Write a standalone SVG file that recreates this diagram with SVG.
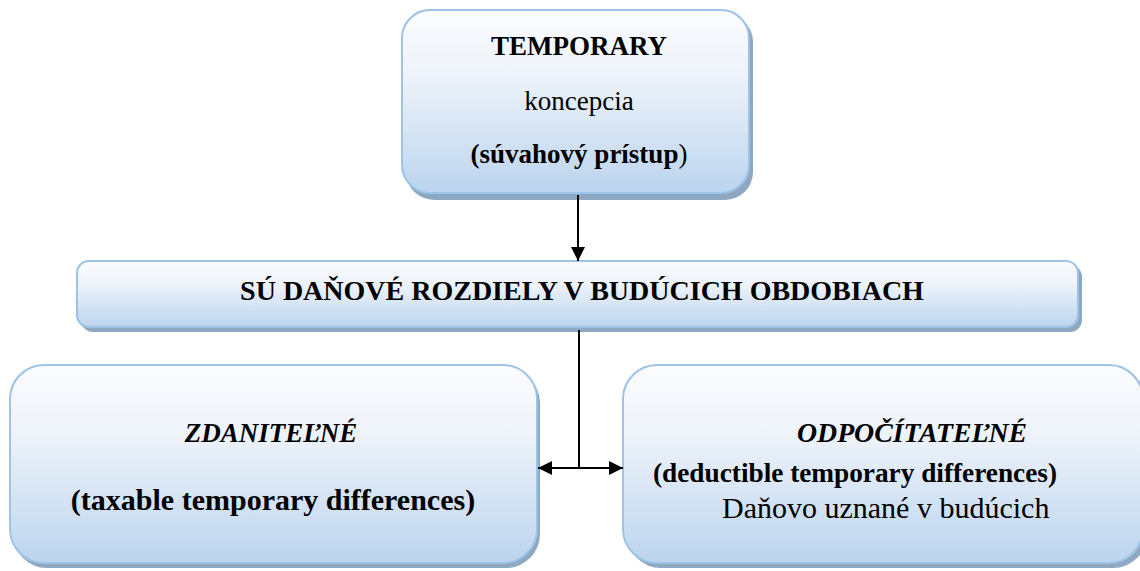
<svg xmlns="http://www.w3.org/2000/svg" width="1140" height="571" viewBox="0 0 1140 571">
  <defs>
    <linearGradient id="boxFill" x1="0" y1="0" x2="0" y2="1">
      <stop offset="0" stop-color="#fbfcfe"/>
      <stop offset="0.35" stop-color="#eef3fa"/>
      <stop offset="1" stop-color="#bcd4ee"/>
    </linearGradient>
    <marker id="arrowHead" viewBox="0 0 14 14" refX="14" refY="7" markerWidth="14" markerHeight="14" markerUnits="userSpaceOnUse" orient="auto">
      <path d="M0,0 L14,7 L0,14 Z" fill="#000"/>
    </marker>
  </defs>
  <style>
    .shadow { fill: #8fa8c2; }
    .box { fill: url(#boxFill); stroke: #9dc3e6; stroke-width: 2; }
    .b { font-weight: bold; }
    .i { font-style: italic; }
    .link { stroke: #000; stroke-width: 2; fill: none; }
  </style>

  <rect width="1140" height="571" fill="#fff"/>

  <g font-family="Liberation Serif, Times New Roman, Tinos, serif" fill="#000">
    <!-- top: temporary concept -->
    <g id="node-temporary">
      <rect class="shadow" x="406" y="14" width="347" height="186" rx="28"/>
      <rect class="box" x="402" y="10" width="347" height="183" rx="28"/>
      <text class="b" x="579" y="55" font-size="27" text-anchor="middle">TEMPORARY</text>
      <text x="579" y="110" font-size="27" text-anchor="middle">koncepcia</text>
      <text class="b" x="579" y="163" font-size="27" text-anchor="middle">(súvahový prístup<tspan font-weight="normal">)</tspan></text>
    </g>

    <!-- middle bar -->
    <g id="node-differences">
      <rect class="shadow" x="81" y="265" width="1001" height="67" rx="12"/>
      <rect class="box" x="77" y="261" width="1001" height="66" rx="12"/>
      <text class="b" x="582" y="300" font-size="28" text-anchor="middle">SÚ DAŇOVÉ ROZDIELY V BUDÚCICH OBDOBIACH</text>
    </g>

    <!-- left: taxable -->
    <g id="node-taxable">
      <rect class="shadow" x="13" y="369" width="527" height="199" rx="34"/>
      <rect class="box" x="10" y="365" width="527" height="198" rx="34"/>
      <text class="b i" x="271" y="442" font-size="27" text-anchor="middle">ZDANITEĽNÉ</text>
      <text class="b" x="273" y="510" font-size="30" text-anchor="middle">(taxable temporary differences)</text>
    </g>

    <!-- right: deductible -->
    <g id="node-deductible">
      <rect class="shadow" x="627" y="369" width="520" height="199" rx="34"/>
      <rect class="box" x="623" y="365" width="520" height="198" rx="34"/>
      <text class="b i" x="797" y="442" font-size="27" textLength="230" lengthAdjust="spacingAndGlyphs">ODPOČÍTATEĽNÉ</text>
      <text class="b" x="653" y="482" font-size="28" textLength="404" lengthAdjust="spacingAndGlyphs">(deductible temporary differences)</text>
      <text x="722" y="518" font-size="30">Daňovo uznané v budúcich</text>
    </g>
  </g>

  <!-- connectors -->
  <g id="connectors">
    <line class="link" x1="578" y1="195" x2="578" y2="261" marker-end="url(#arrowHead)"/>
    <line class="link" x1="579" y1="330" x2="579" y2="468"/>
    <line class="link" x1="579" y1="468" x2="538" y2="468" marker-end="url(#arrowHead)"/>
    <line class="link" x1="579" y1="468" x2="623" y2="468" marker-end="url(#arrowHead)"/>
  </g>
</svg>
